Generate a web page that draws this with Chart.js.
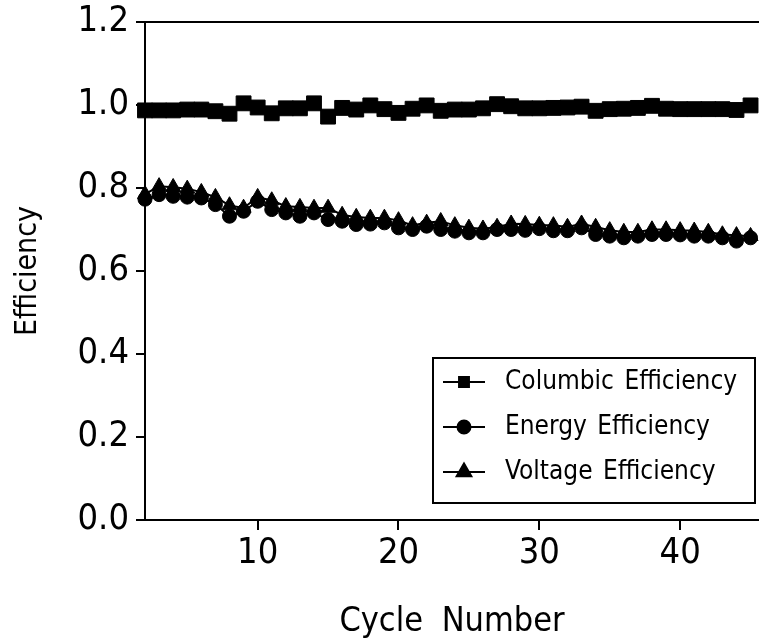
<!DOCTYPE html>
<html>
<head>
<meta charset="utf-8">
<script src="https://cdn.jsdelivr.net/npm/chart.js@4/dist/chart.umd.min.js"></script>
<style>
  html, body { margin: 0; padding: 0; background: #fff; overflow: hidden; }
  #wrap { width: 759px; height: 643px; position: relative; }
  #chart { display: block; }
</style>
</head>
<body>
<div id="wrap"><canvas id="chart"></canvas></div>
<script>
const cycles = [2, 3, 4, 5, 6, 7, 8, 9, 10, 11, 12, 13, 14, 15, 16, 17, 18, 19, 20, 21, 22, 23,
  24, 25, 26, 27, 28, 29, 30, 31, 32, 33, 34, 35, 36, 37, 38, 39, 40, 41, 42, 43, 44, 45];

const columbic = [0.987, 0.987, 0.987, 0.989, 0.989, 0.985, 0.979, 1.004, 0.994, 0.980, 0.992,
  0.992, 1.004, 0.972, 0.993, 0.989, 0.999, 0.990, 0.981, 0.991, 0.999, 0.986, 0.989, 0.989,
  0.992, 1.002, 0.997, 0.992, 0.992, 0.993, 0.994, 0.996, 0.986, 0.990, 0.991, 0.993, 0.998,
  0.991, 0.990, 0.990, 0.990, 0.990, 0.988, 0.999];

const energy = [0.773, 0.784, 0.780, 0.778, 0.776, 0.760, 0.732, 0.744, 0.768, 0.748, 0.740,
  0.732, 0.740, 0.724, 0.720, 0.712, 0.713, 0.716, 0.704, 0.700, 0.708, 0.700, 0.696, 0.692,
  0.692, 0.700, 0.700, 0.698, 0.702, 0.697, 0.697, 0.704, 0.688, 0.684, 0.680, 0.684, 0.688,
  0.688, 0.687, 0.684, 0.684, 0.680, 0.672, 0.680];

const voltage = [0.785, 0.804, 0.802, 0.798, 0.790, 0.778, 0.758, 0.752, 0.778, 0.770, 0.756,
  0.754, 0.752, 0.752, 0.735, 0.730, 0.728, 0.728, 0.722, 0.710, 0.716, 0.720, 0.710, 0.704,
  0.702, 0.706, 0.714, 0.713, 0.711, 0.710, 0.706, 0.714, 0.706, 0.698, 0.694, 0.694, 0.700,
  0.700, 0.698, 0.697, 0.694, 0.688, 0.686, 0.684];

const xTicks = [10, 20, 30, 40];
const yTicks = [0, 0.2, 0.4, 0.6, 0.8, 1.0, 1.2];
const seriesNames = ['Columbic Efficiency', 'Energy Efficiency', 'Voltage Efficiency'];

const FONT = '"Liberation Sans Narrow", "DejaVu Sans Condensed", "Liberation Sans", sans-serif';

function pts(values) {
  return cycles.map((c, i) => ({ x: c, y: values[i] }));
}

function makeSet(label, values, style, radius) {
  return {
    label: label,
    data: pts(values),
    borderColor: '#000',
    backgroundColor: '#000',
    borderWidth: 2,
    pointStyle: style,
    pointRadius: radius,
    pointBorderWidth: 1,
    pointBackgroundColor: '#000',
    pointBorderColor: '#000',
    tension: 0,
    clip: false
  };
}

// wide word gaps like the original lettering
const spacingPlugin = {
  id: 'spacing',
  beforeDraw(chart) {
    try { chart.ctx.wordSpacing = '9px'; } catch (e) {}
  }
};

// top frame line + legend box inside the plot
const framePlugin = {
  id: 'frame',
  afterDraw(chart) {
    const ctx = chart.ctx;
    const a = chart.chartArea;
    ctx.save();
    ctx.strokeStyle = '#000';
    ctx.lineWidth = 2;
    ctx.beginPath();
    ctx.moveTo(a.left - 9, a.top);
    ctx.lineTo(a.right, a.top);
    ctx.stroke();

    // legend
    const bx = a.right - 326, by = a.bottom - 162, bw = 322, bh = 145;
    ctx.fillStyle = '#fff';
    ctx.fillRect(bx, by, bw, bh);
    ctx.strokeRect(bx, by, bw, bh);
    ctx.font = '26px ' + FONT;
    ctx.textBaseline = 'middle';
    ctx.textAlign = 'left';
    try { ctx.wordSpacing = '3px'; } catch (e) {}
    const sizes = [7, 6.5, 8.5];
    chart.data.datasets.forEach((ds, i) => {
      const y = by + 24 + i * 45;
      ctx.strokeStyle = '#000';
      ctx.lineWidth = 2;
      ctx.beginPath();
      ctx.moveTo(bx + 10, y);
      ctx.lineTo(bx + 52, y);
      ctx.stroke();
      ctx.fillStyle = '#000';
      Chart.helpers.drawPoint(ctx, {
        pointStyle: ds.pointStyle, radius: sizes[i], rotation: 0, borderWidth: 1
      }, bx + 31, y);
      ctx.fillStyle = '#000';
      ctx.fillText(ds.label, bx + 72, y);
    });
    ctx.restore();
  }
};

new Chart(document.getElementById('chart'), {
  type: 'line',
  data: {
    datasets: [
      makeSet(seriesNames[0], columbic, 'rect', 10.5),
      makeSet(seriesNames[1], energy, 'circle', 7),
      makeSet(seriesNames[2], voltage, 'triangle', 8.7)
    ]
  },
  options: {
    responsive: true,
    maintainAspectRatio: false,
    animation: false,
    layout: { autoPadding: false, padding: { top: 22, right: 0, left: 0, bottom: 0 } },
    plugins: {
      legend: { display: false },
      tooltip: { enabled: false }
    },
    scales: {
      x: {
        type: 'linear',
        min: 2,
        max: 45.6,
        afterBuildTicks: axis => { axis.ticks = xTicks.map(v => ({ value: v })); },
        afterFit: scale => {
          scale.height = 123;
          scale.paddingLeft = 0;
          scale.paddingRight = 0;
        },
        grid: { drawOnChartArea: false, drawTicks: true, tickLength: 10, color: '#000', lineWidth: 2 },
        border: { color: '#000', width: 2 },
        ticks: { color: '#000', font: { family: FONT, size: 36 }, padding: 2, maxRotation: 0 },
        title: {
          display: true,
          text: 'Cycle Number',
          color: '#000',
          font: { family: FONT, size: 34 },
          padding: { top: 8, bottom: 0 }
        }
      },
      y: {
        min: 0,
        max: 1.2,
        afterBuildTicks: axis => { axis.ticks = yTicks.map(v => ({ value: v })); },
        afterFit: scale => {
          scale.width = 145;
          scale.paddingTop = 0;
          scale.paddingBottom = 0;
        },
        grid: { drawOnChartArea: false, drawTicks: true, tickLength: 9, color: '#000', lineWidth: 2 },
        border: { color: '#000', width: 2 },
        ticks: {
          color: '#000',
          font: { family: FONT, size: 36 },
          padding: 7,
          callback: v => v.toFixed(1)
        },
        title: {
          display: true,
          text: 'Efficiency',
          color: '#000',
          font: { family: FONT, size: 30 },
          padding: { top: 10, bottom: 0 }
        }
      }
    }
  },
  plugins: [spacingPlugin, framePlugin]
});
</script>
</body>
</html>
